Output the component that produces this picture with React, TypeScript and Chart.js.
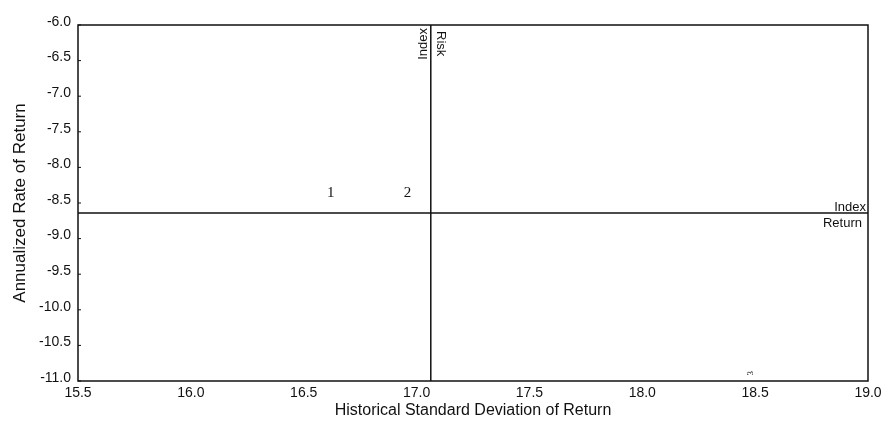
import React, { useEffect, useRef } from "react";
import { Chart, registerables } from "chart.js";

Chart.register(...registerables);

const fundLabels = ["1", "2", "3"];
const fundRisk = [16.62, 16.96, 18.48];
const fundReturn = [-8.36, -8.36, -10.89];
const indexRisk = 17.063;
const indexReturn = -8.64;
const xRange = [15.5, 19.0];
const yRange = [-11.0, -6.0];
const tickStep = 0.5;

const SANS = "'Liberation Sans', Arial, sans-serif";
const SERIF = "'Liberation Serif', 'Times New Roman', serif";

const overlayPlugin = {
  id: "overlay",
  afterDraw(chart: any) {
    const { ctx, chartArea } = chart;
    const xs = chart.scales.x;
    const ys = chart.scales.y;
    ctx.save();
    ctx.strokeStyle = "#111";
    ctx.lineWidth = 1.5;
    ctx.strokeRect(chartArea.left, chartArea.top, chartArea.right - chartArea.left, chartArea.bottom - chartArea.top);
    // inward ticks on y axis
    ctx.lineWidth = 1;
    ys.ticks.forEach((t: any) => {
      const py = ys.getPixelForValue(t.value);
      ctx.beginPath();
      ctx.moveTo(chartArea.left, py);
      ctx.lineTo(chartArea.left + 3, py);
      ctx.stroke();
    });
    // fund labels
    ctx.fillStyle = "#111";
    ctx.textAlign = "center";
    ctx.textBaseline = "middle";
    fundLabels.forEach((lab, i) => {
      const px = xs.getPixelForValue(fundRisk[i]);
      const py = ys.getPixelForValue(fundReturn[i]);
      if (i === 2) {
        ctx.save();
        ctx.translate(px, py);
        ctx.rotate(-Math.PI / 2);
        ctx.font = `9px ${SERIF}`;
        ctx.fillText(lab, 0, 0);
        ctx.restore();
      } else {
        ctx.font = `15px ${SERIF}`;
        ctx.fillText(lab, px, py);
      }
    });
    // index risk labels
    const rx = xs.getPixelForValue(indexRisk);
    ctx.font = `13px ${SANS}`;
    ctx.save();
    ctx.translate(rx - 7, chartArea.top + 3);
    ctx.rotate(-Math.PI / 2);
    ctx.textAlign = "right";
    ctx.textBaseline = "middle";
    ctx.fillText("Index", 0, 0);
    ctx.restore();
    ctx.save();
    ctx.translate(rx + 10, chartArea.top + 6);
    ctx.rotate(Math.PI / 2);
    ctx.textAlign = "left";
    ctx.textBaseline = "middle";
    ctx.fillText("Risk", 0, 0);
    ctx.restore();
    // index return labels
    const ry = ys.getPixelForValue(indexReturn);
    ctx.textAlign = "right";
    ctx.textBaseline = "middle";
    ctx.fillText("Index", chartArea.right - 2, ry - 6);
    ctx.fillText("Return", chartArea.right - 6, ry + 10);
    ctx.restore();
  },
};

export default function App() {
  const ref = useRef<HTMLCanvasElement>(null);
  useEffect(() => {
    document.body.style.margin = "0";
    const chart = new Chart(ref.current as HTMLCanvasElement, {
      type: "scatter",
      data: {
        datasets: [
          {
            label: "Index Risk",
            data: [
              { x: indexRisk, y: yRange[1] },
              { x: indexRisk, y: yRange[0] },
            ],
            showLine: true,
            borderColor: "#111",
            borderWidth: 1.5,
            pointRadius: 0,
          },
          {
            label: "Index Return",
            data: [
              { x: xRange[0], y: indexReturn },
              { x: xRange[1], y: indexReturn },
            ],
            showLine: true,
            borderColor: "#111",
            borderWidth: 1.5,
            pointRadius: 0,
          },
          {
            label: "Funds",
            data: fundRisk.map((x, i) => ({ x, y: fundReturn[i] })),
            pointRadius: 0,
          },
        ],
      },
      options: {
        animation: false,
        responsive: true,
        maintainAspectRatio: false,
        layout: { padding: { top: 25, right: 20, left: 0, bottom: 0 } },
        plugins: { legend: { display: false }, tooltip: { enabled: false } },
        scales: {
          x: {
            type: "linear",
            min: xRange[0],
            max: xRange[1],
            grid: { display: false, drawTicks: false },
            border: { display: false },
            ticks: {
              stepSize: tickStep,
              padding: 4,
              color: "#111",
              font: { size: 14, family: SANS },
              callback: (v: any) => Number(v).toFixed(1),
            },
            title: {
              display: true,
              text: "Historical Standard Deviation of Return",
              color: "#111",
              font: { size: 16, family: SANS },
              padding: { top: 0, bottom: 13 },
            },
            afterFit: (s: any) => {
              s.height = 52;
            },
          },
          y: {
            type: "linear",
            min: yRange[0],
            max: yRange[1],
            grid: { display: false, drawTicks: false },
            border: { display: false },
            ticks: {
              stepSize: tickStep,
              padding: 7,
              labelOffset: -3,
              color: "#111",
              font: { size: 14, family: SANS },
              callback: (v: any) => Number(v).toFixed(1),
            },
            title: {
              display: true,
              text: "Annualized Rate of Return",
              color: "#111",
              font: { size: 17, family: SANS },
              padding: { top: 10, bottom: 0 },
            },
            afterFit: (s: any) => {
              s.width = 78;
            },
          },
        },
      },
      plugins: [overlayPlugin],
    });
    return () => chart.destroy();
  }, []);
  return (
    <div style={{ width: 888, height: 433, position: "relative", background: "#fff" }}>
      <canvas ref={ref} />
    </div>
  );
}
